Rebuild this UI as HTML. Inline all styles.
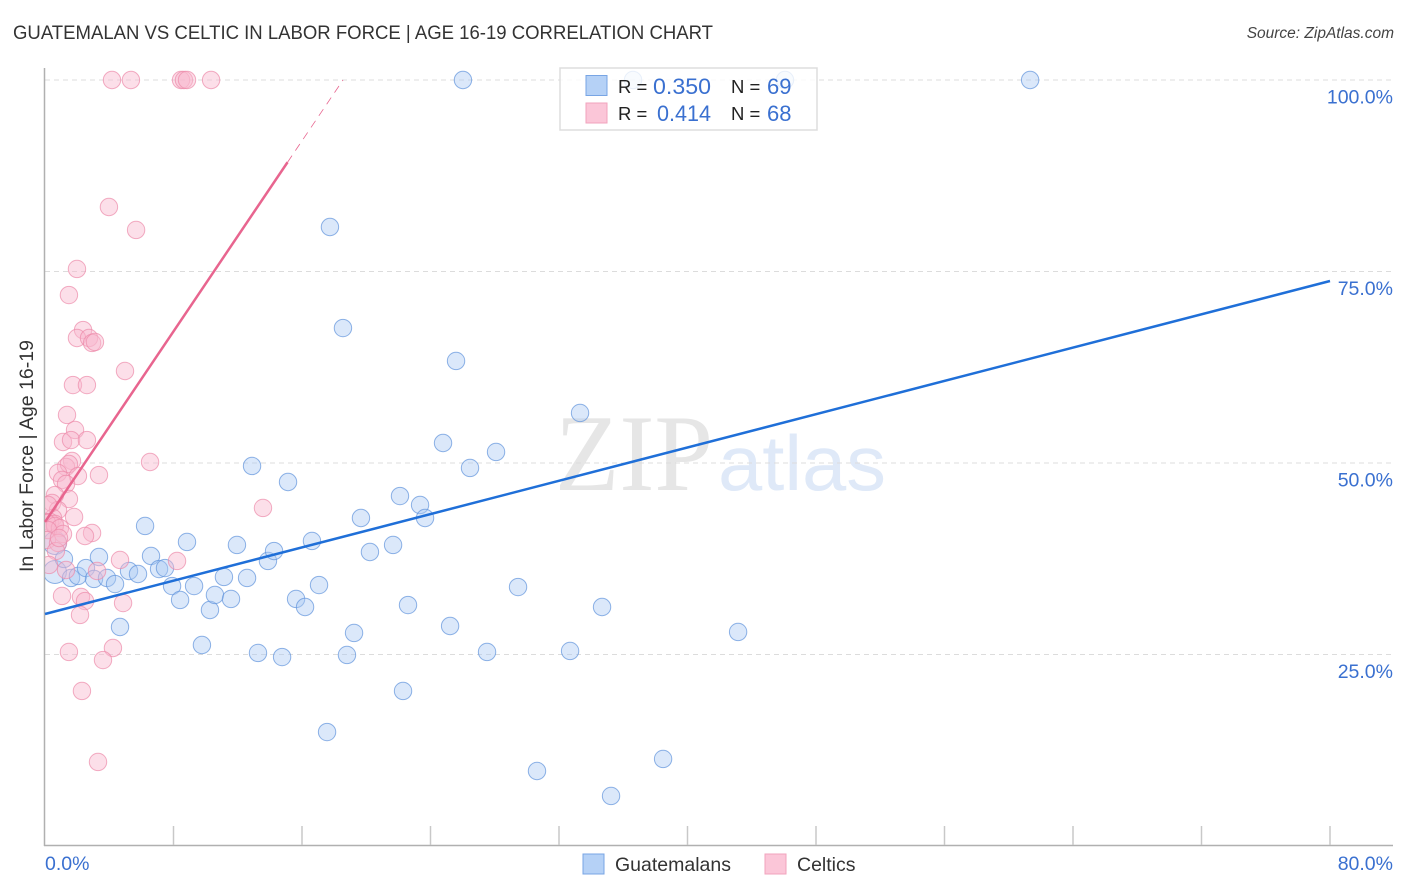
<!DOCTYPE html>
<html lang="en">
<head>
<meta charset="utf-8">
<title>Guatemalan vs Celtic In Labor Force | Age 16-19 Correlation Chart</title>
<style>
html,body{margin:0;padding:0;background:#fff;width:1406px;height:892px;overflow:hidden}
svg{display:block;font-family:"Liberation Sans",sans-serif}
</style>
</head>
<body>
<svg id="chart" xmlns="http://www.w3.org/2000/svg" width="1406" height="892" viewBox="0 0 1406 892">
  <defs>
    <clipPath id="plot-clip"><rect x="45" y="60" width="1348" height="786"/></clipPath>
  </defs>
  <text x="13" y="39" font-size="19" fill="#333" textLength="700" lengthAdjust="spacingAndGlyphs">GUATEMALAN VS CELTIC IN LABOR FORCE | AGE 16-19 CORRELATION CHART</text>
  <text x="1394" y="38" font-size="15.5" font-style="italic" fill="#444" text-anchor="end">Source: ZipAtlas.com</text>
  <g>
    <text x="555" y="490" font-family="'Liberation Serif',serif" font-size="109" fill="#e6e6e6" textLength="158" lengthAdjust="spacingAndGlyphs">ZIP</text>
    <text x="718" y="490" font-size="78" fill="#dfe9f8" textLength="168" lengthAdjust="spacingAndGlyphs">atlas</text>
  </g>
  <g id="grid"></g>
  <g id="axes"></g>
  <g clip-path="url(#plot-clip)">
    <g id="points-blue"></g>
    <g id="points-pink"></g>
  </g>
  <g id="trends"></g>
  <g id="labels"></g>
  <text transform="translate(33,456) rotate(-90)" font-size="19" fill="#333" text-anchor="middle" textLength="232" lengthAdjust="spacingAndGlyphs">In Labor Force | Age 16-19</text>

  <g>
    <rect x="560" y="68" width="257" height="62" fill="#fff" fill-opacity="0.8" stroke="#ddd" stroke-width="1.5"/>
    <rect x="586" y="75.5" width="21" height="20" fill="#b5d1f6" stroke="#78a5e4" stroke-width="1"/>
    <rect x="586" y="103" width="21" height="20" fill="#fbc6d8" stroke="#f2a3bd" stroke-width="1"/>
    <text x="618" y="93" font-size="18.5" fill="#222">R =</text>
    <text x="653" y="94" font-size="22" fill="#3a70d0" textLength="58" lengthAdjust="spacingAndGlyphs">0.350</text>
    <text x="731" y="93" font-size="18.5" fill="#222">N =</text>
    <text x="767" y="94" font-size="22" fill="#3a70d0">69</text>
    <text x="618" y="120" font-size="18.5" fill="#222">R =</text>
    <text x="657" y="121" font-size="22" fill="#3a70d0" textLength="54" lengthAdjust="spacingAndGlyphs">0.414</text>
    <text x="731" y="120" font-size="18.5" fill="#222">N =</text>
    <text x="767" y="121" font-size="22" fill="#3a70d0">68</text>
  </g>

  <g>
    <rect x="583" y="854" width="21" height="20" fill="#b5d1f6" stroke="#78a5e4" stroke-width="1"/>
    <text x="615" y="871" font-size="19.5" fill="#333">Guatemalans</text>
    <rect x="765" y="854" width="21" height="20" fill="#fbc6d8" stroke="#f2a3bd" stroke-width="1"/>
    <text x="797" y="871" font-size="19.5" fill="#333">Celtics</text>
  </g>
</svg>

<script>
const blueX = [0.62,0.62,1.18,1.62,2.05,2.55,3.05,3.36,3.86,4.36,4.67,5.23,5.79,6.23,6.60,7.10,7.47,7.91,8.41,8.84,9.28,9.77,10.27,10.58,11.14,11.58,11.95,12.58,12.89,13.26,13.88,14.26,14.76,15.13,15.63,16.19,16.62,17.06,17.56,17.74,18.55,18.80,19.24,19.67,20.23,21.67,22.10,22.29,22.60,23.35,23.66,24.78,25.22,25.59,26.02,26.46,27.52,28.08,29.45,30.63,32.69,33.31,34.68,35.24,36.61,38.48,43.15,46.07,61.33];
const blueY = [35.77,39.56,37.47,34.99,35.25,36.29,34.86,37.73,34.99,34.20,28.59,35.90,35.51,41.78,37.86,36.16,36.29,33.94,32.12,39.69,33.94,26.24,30.81,32.77,35.12,32.25,39.30,34.99,49.61,25.20,37.21,38.51,24.67,47.52,32.25,31.20,39.82,34.07,14.88,80.81,67.62,24.94,27.81,42.82,38.38,39.30,45.69,20.24,31.46,44.52,42.82,52.61,28.72,63.32,100,49.35,25.33,51.44,33.81,9.79,25.46,56.53,31.20,6.53,100,11.36,27.94,100,100];
const pinkX = [4.17,5.35,8.47,8.65,8.84,10.34,3.98,5.67,1.99,1.49,2.37,1.99,2.74,2.93,3.11,4.98,1.74,2.61,1.37,1.87,1.12,1.62,2.61,6.54,1.68,1.31,1.49,0.81,2.05,3.36,1.06,1.31,1.49,0.62,0.44,0.81,13.57,1.81,0.50,0.31,0.62,0.12,0.62,0.93,0.19,1.12,2.93,2.49,0.12,0.81,0.68,4.67,8.22,0.25,1.31,3.24,1.06,2.24,2.49,4.86,2.18,1.49,4.23,3.61,2.30,3.30,0.87,0.19];
const pinkY = [100,100,100,100,100,100,83.42,80.42,75.33,71.93,67.36,66.32,66.32,65.67,65.80,62.01,60.18,60.18,56.27,54.31,52.74,53.00,53.00,50.13,50.26,49.48,49.87,48.70,48.30,48.43,47.78,47.26,45.30,45.82,44.78,43.86,44.13,42.95,42.82,42.30,42.04,42.17,41.78,41.51,41.25,40.73,40.86,40.47,39.95,39.56,38.51,37.34,37.21,36.69,36.03,35.90,32.64,32.51,31.98,31.72,30.16,25.33,25.85,24.28,20.24,10.97,40.21,44.52];
const blueLargePoints = [0,1];
const blueTrendStart = 30.29;
const blueTrendEnd = 73.76;
const pinkTrendStart = 42.3;
const pinkTrendSlope = 3.11;
const pinkTrendSolidTo = 15.1;
const xTickValues = [8,16,24,32,40,48,56,64,72,80];
const yGridValues = [25,50,75,100];
const yTickLabels = ["25.0%","50.0%","75.0%","100.0%"];
const xMinLabel = "0.0%";
const xMaxLabel = "80.0%";

const NS = "http://www.w3.org/2000/svg";
const xScale = v => 45 + v * 1285 / 80;
const yScale = v => 846 - v * 7.66;

function make(tag, attrs, parent) {
  const el = document.createElementNS(NS, tag);
  for (const k in attrs) el.setAttribute(k, attrs[k]);
  parent.appendChild(el);
  return el;
}

const gridG = document.getElementById("grid");
const axesG = document.getElementById("axes");
const labelsG = document.getElementById("labels");
const blueG = document.getElementById("points-blue");
const pinkG = document.getElementById("points-pink");
const trendsG = document.getElementById("trends");

yGridValues.forEach(v => {
  const line = make("line", {x1: 45, x2: 1393, y1: yScale(v), y2: yScale(v), stroke: "#dcdcdc", "stroke-width": 1, "stroke-dasharray": "5 4"}, gridG);
  
  
});

const yAxisLine = make("line", {x1: 44.5, x2: 44.5, y1: 68, y2: 846, stroke: "#b0b0b0", "stroke-width": 1.5}, axesG);


const xAxisLine = make("line", {x1: 44, x2: 1393, y1: 845.5, y2: 845.5, stroke: "#b0b0b0", "stroke-width": 1.5}, axesG);



xTickValues.forEach(v => {
  const tick = make("line", {x1: xScale(v), x2: xScale(v), y1: 826, y2: 845, stroke: "#c8c8c8", "stroke-width": 1.5}, axesG);
  
  
});

yGridValues.forEach((v, i) => {
  const label = make("text", {x: 1393, y: yScale(v) + 23.5, "font-size": 19.5, fill: "#3a70d0", "text-anchor": "end"}, labelsG);
  
  
  label.textContent = yTickLabels[i];
});

const xMinText = make("text", {x: xScale(0), y: 870, "font-size": 19.5, fill: "#3a70d0"}, labelsG);


xMinText.textContent = xMinLabel;
const xMaxText = make("text", {x: 1393, y: 870, "font-size": 19.5, fill: "#3a70d0", "text-anchor": "end"}, labelsG);


xMaxText.textContent = xMaxLabel;

blueX.forEach((v, i) => {
  const r = blueLargePoints.includes(i) ? 11.5 : 8.7;
  const c = make("circle", {cx: xScale(v), cy: yScale(blueY[i]), r: r, fill: "#a9c9f3", "fill-opacity": 0.42, stroke: "#5f93dc", "stroke-opacity": 0.7, "stroke-width": 1}, blueG);
  
  
});

pinkX.forEach((v, i) => {
  const c = make("circle", {cx: xScale(v), cy: yScale(pinkY[i]), r: 8.7, fill: "#f9b9cf", "fill-opacity": 0.45, stroke: "#ec8aa9", "stroke-opacity": 0.7, "stroke-width": 1}, pinkG);
  
  
});

const blueTrend = make("line", {x1: xScale(0), y1: yScale(blueTrendStart), x2: xScale(80), y2: yScale(blueTrendEnd), stroke: "#1f6fd8", "stroke-width": 2.5}, trendsG);



const pinkSolidEndY = pinkTrendStart + pinkTrendSlope * pinkTrendSolidTo;
const pinkTopX = (100 - pinkTrendStart) / pinkTrendSlope;
const pinkTrend = make("line", {x1: xScale(0), y1: yScale(pinkTrendStart), x2: xScale(pinkTrendSolidTo), y2: yScale(pinkSolidEndY), stroke: "#e8658f", "stroke-width": 2.5}, trendsG);


const pinkDashed = make("line", {x1: xScale(pinkTrendSolidTo), y1: yScale(pinkSolidEndY), x2: xScale(pinkTopX), y2: yScale(100), stroke: "#e8658f", "stroke-width": 0.8, "stroke-dasharray": "8 6"}, trendsG);


</script>
</body>
</html>
